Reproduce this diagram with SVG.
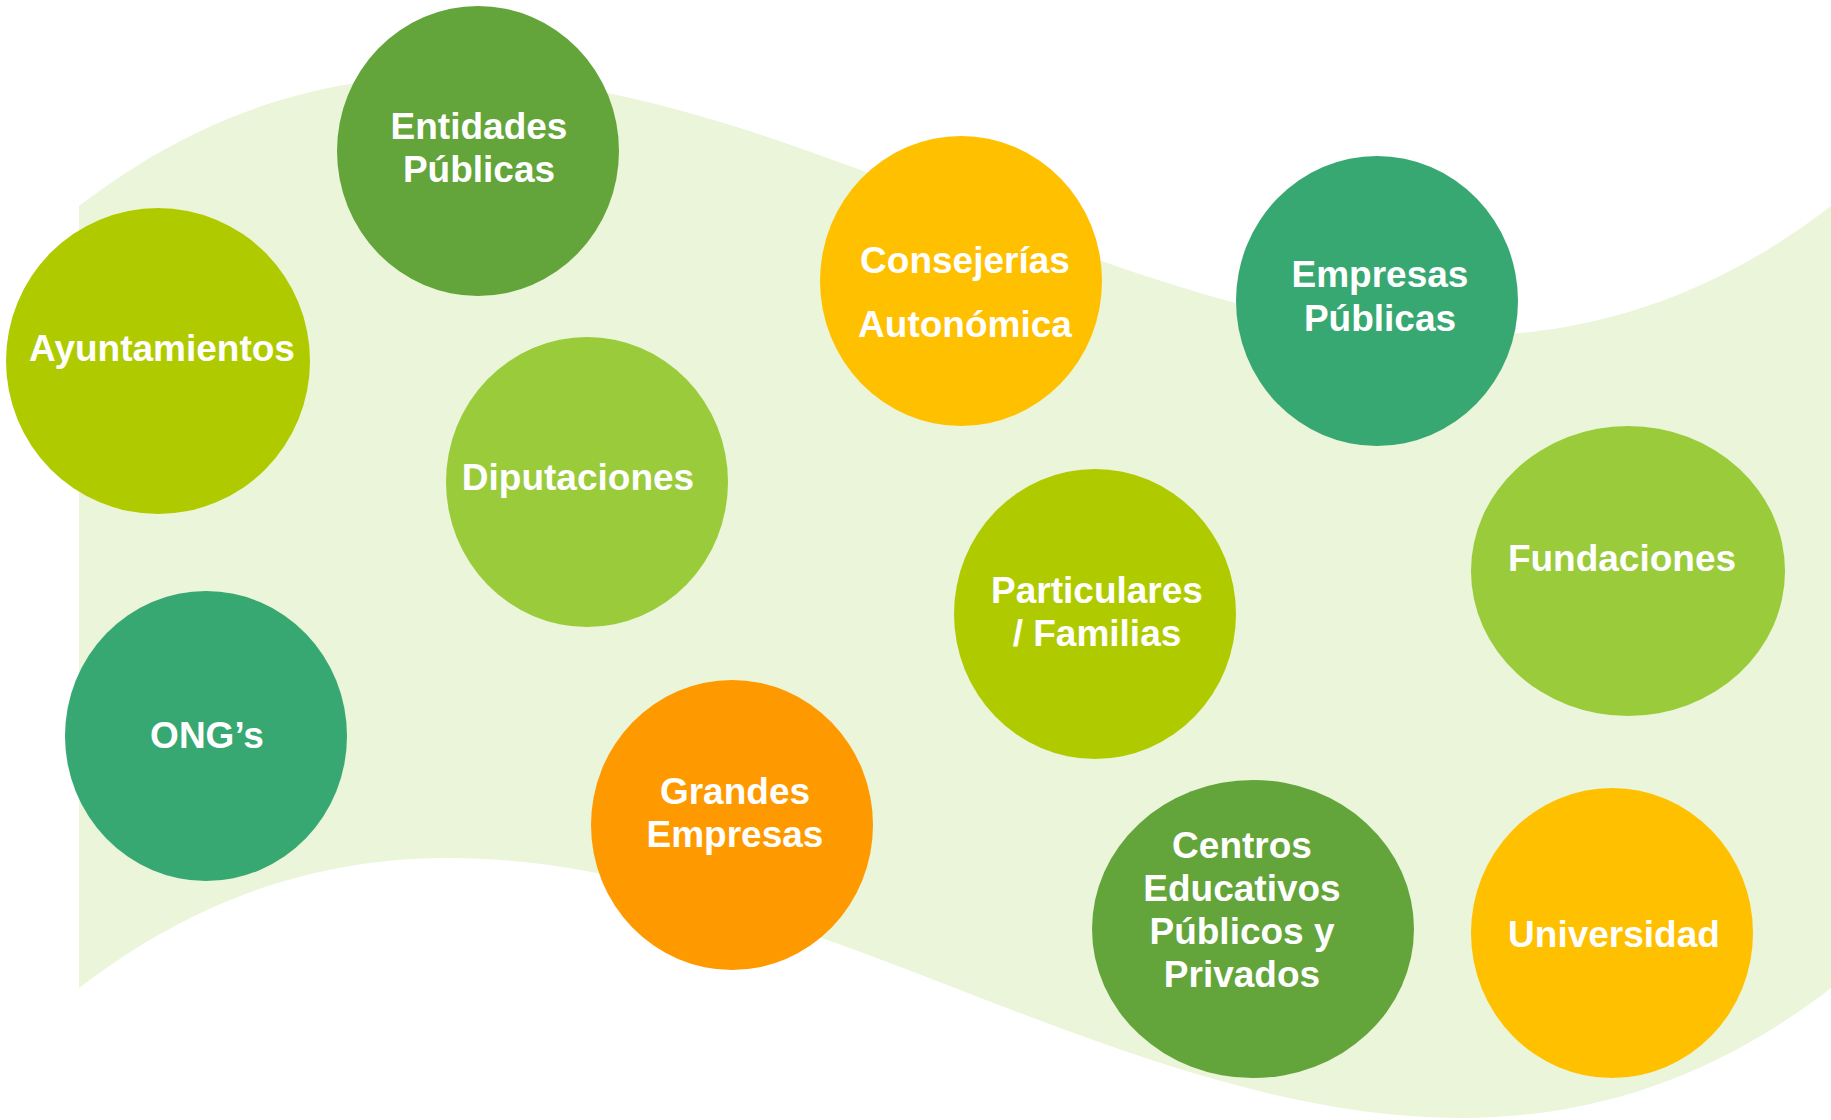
<svg xmlns="http://www.w3.org/2000/svg" width="1831" height="1120" viewBox="0 0 1831 1120">
<style>
.lbl{font-family:"Liberation Sans",Arial,sans-serif;font-weight:bold;font-size:37px;fill:#ffffff;text-anchor:middle}
.c1{fill:#63A53A}.c2{fill:#AFCB00}.c3{fill:#9ACB3A}.c4{fill:#38A872}.c5{fill:#FE9A00}.c6{fill:#FFC000}
</style>
<rect width="1831" height="1120" fill="#ffffff"/>
<path id="band" d="M79,206 C663,-244 1247,656 1831,206 L1831,988 C1247,1438 663,538 79,988 Z" fill="#EAF5DA"/>
<g id="connectors"></g>
<g id="entidades"><ellipse class="c1" cx="478" cy="151" rx="141" ry="145"/><text class="lbl" x="479" y="139">Entidades</text><text class="lbl" x="479" y="182">Públicas</text></g>
<g id="ayuntamientos"><ellipse class="c2" cx="158" cy="361" rx="152" ry="153"/><text class="lbl" x="162" y="361">Ayuntamientos</text></g>
<g id="diputaciones"><ellipse class="c3" cx="587" cy="482" rx="141" ry="145"/><text class="lbl" x="578" y="490">Diputaciones</text></g>
<g id="consejerias"><ellipse class="c6" cx="961" cy="281" rx="141" ry="145"/><text class="lbl" x="965" y="273">Consejerías</text><text class="lbl" x="965" y="337">Autonómica</text></g>
<g id="empresas-publicas"><ellipse class="c4" cx="1377" cy="301" rx="141" ry="145"/><text class="lbl" x="1380" y="287">Empresas</text><text class="lbl" x="1380" y="331">Públicas</text></g>
<g id="fundaciones"><ellipse class="c3" cx="1628" cy="571" rx="157" ry="145"/><text class="lbl" x="1622" y="571">Fundaciones</text></g>
<g id="particulares"><ellipse class="c2" cx="1095" cy="614" rx="141" ry="145"/><text class="lbl" x="1097" y="603">Particulares</text><text class="lbl" x="1097" y="646">/ Familias</text></g>
<g id="ongs"><ellipse class="c4" cx="206" cy="736" rx="141" ry="145"/><text class="lbl" x="207" y="748">ONG’s</text></g>
<g id="grandes-empresas"><ellipse class="c5" cx="732" cy="825" rx="141" ry="145"/><text class="lbl" x="735" y="804">Grandes</text><text class="lbl" x="735" y="847">Empresas</text></g>
<g id="centros"><ellipse class="c1" cx="1253" cy="929" rx="161" ry="149"/><text class="lbl" x="1242" y="858">Centros</text><text class="lbl" x="1242" y="901">Educativos</text><text class="lbl" x="1242" y="944">Públicos y</text><text class="lbl" x="1242" y="987">Privados</text></g>
<g id="universidad"><ellipse class="c6" cx="1612" cy="933" rx="141" ry="145"/><text class="lbl" x="1614" y="947">Universidad</text></g>
</svg>
